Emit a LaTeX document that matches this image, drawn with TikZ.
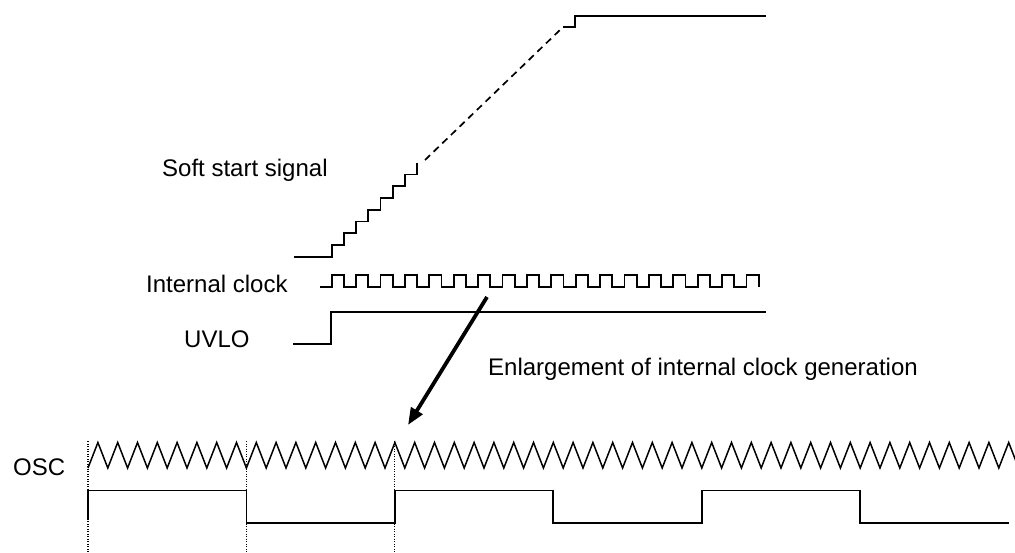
\documentclass[tikz,border=0pt]{standalone}
\usepackage{fontspec}
\setmainfont{Liberation Sans}
\usetikzlibrary{arrows.meta}
\begin{document}
\begin{tikzpicture}[x=1pt,y=-1pt,
  sig/.style={line width=1.7pt, line join=miter},
  tri/.style={line width=1.5pt, line join=miter},
  lbl/.style={font=\fontsize{24}{29}\selectfont, inner sep=0pt, anchor=base west},
  guide/.style={line width=1.1pt, dash pattern=on 1.1pt off 1.4pt},
  bigarrow/.style={line width=3.8pt, -{Triangle[length=17pt,width=13pt]}}]
\useasboundingbox (0,0) rectangle (1015,552);
% labels
\node[lbl] (soft) at (162,176) {Soft start signal};
\node[lbl] (clk) at (146,292) {Internal clock};
\node[lbl] (uvlo) at (184,347) {UVLO};
\node[lbl] (enl) at (488,375) {Enlargement of internal clock generation};
\node[lbl] (osc) at (13,475) {OSC};
% soft start staircase
\draw[sig] (294,256.7) -- (331.7,256.7)
  foreach \k in {0,...,6} { -- ++(0,-11.75) -- ++(12.2,0) } -- ++(0,-11.75);
\draw[sig, dash pattern=on 7pt off 5pt] (425,160) -- (562,28);
\draw[sig] (563,26.7) -- (575,26.7) -- (575,15.7) -- (766,15.7);
% internal clock
\draw[sig] (320,286.7) -- (331.7,286.7)
  foreach \k in {0,...,16} { -- ++(0,-11.7) -- ++(12.2,0) -- ++(0,11.7) -- ++(12.2,0) }
  -- ++(0,-11.7) -- ++(12.2,0) -- ++(0,11.7);
% UVLO
\draw[sig] (293.3,344) -- (330.7,344) -- (330.7,311.7) -- (766,311.7);
% arrow
\coordinate (arrS) at (487,297);
\coordinate (arrE) at (408,425);
\draw[bigarrow] (arrS) -- (arrE);
% OSC triangle
\draw[tri] (88,468) foreach \k in {0,...,46} { -- ++(9.9,-25.5) -- ++(9.9,25.5) };
% square
\draw[sig] (88,520) -- (88,490.5) -- (246.4,490.5) -- (246.4,523.3) -- (394.9,523.3)
  -- (394.9,490.5) -- (553.3,490.5) -- (553.3,523.3) -- (701.8,523.3) -- (701.8,490.5)
  -- (860.2,490.5) -- (860.2,523.3) -- (1009,523.3);
% dotted guides
\foreach \x in {88,246.4,394.9} { \draw[guide] (\x,441) -- (\x,552); }
\end{tikzpicture}
\end{document}
